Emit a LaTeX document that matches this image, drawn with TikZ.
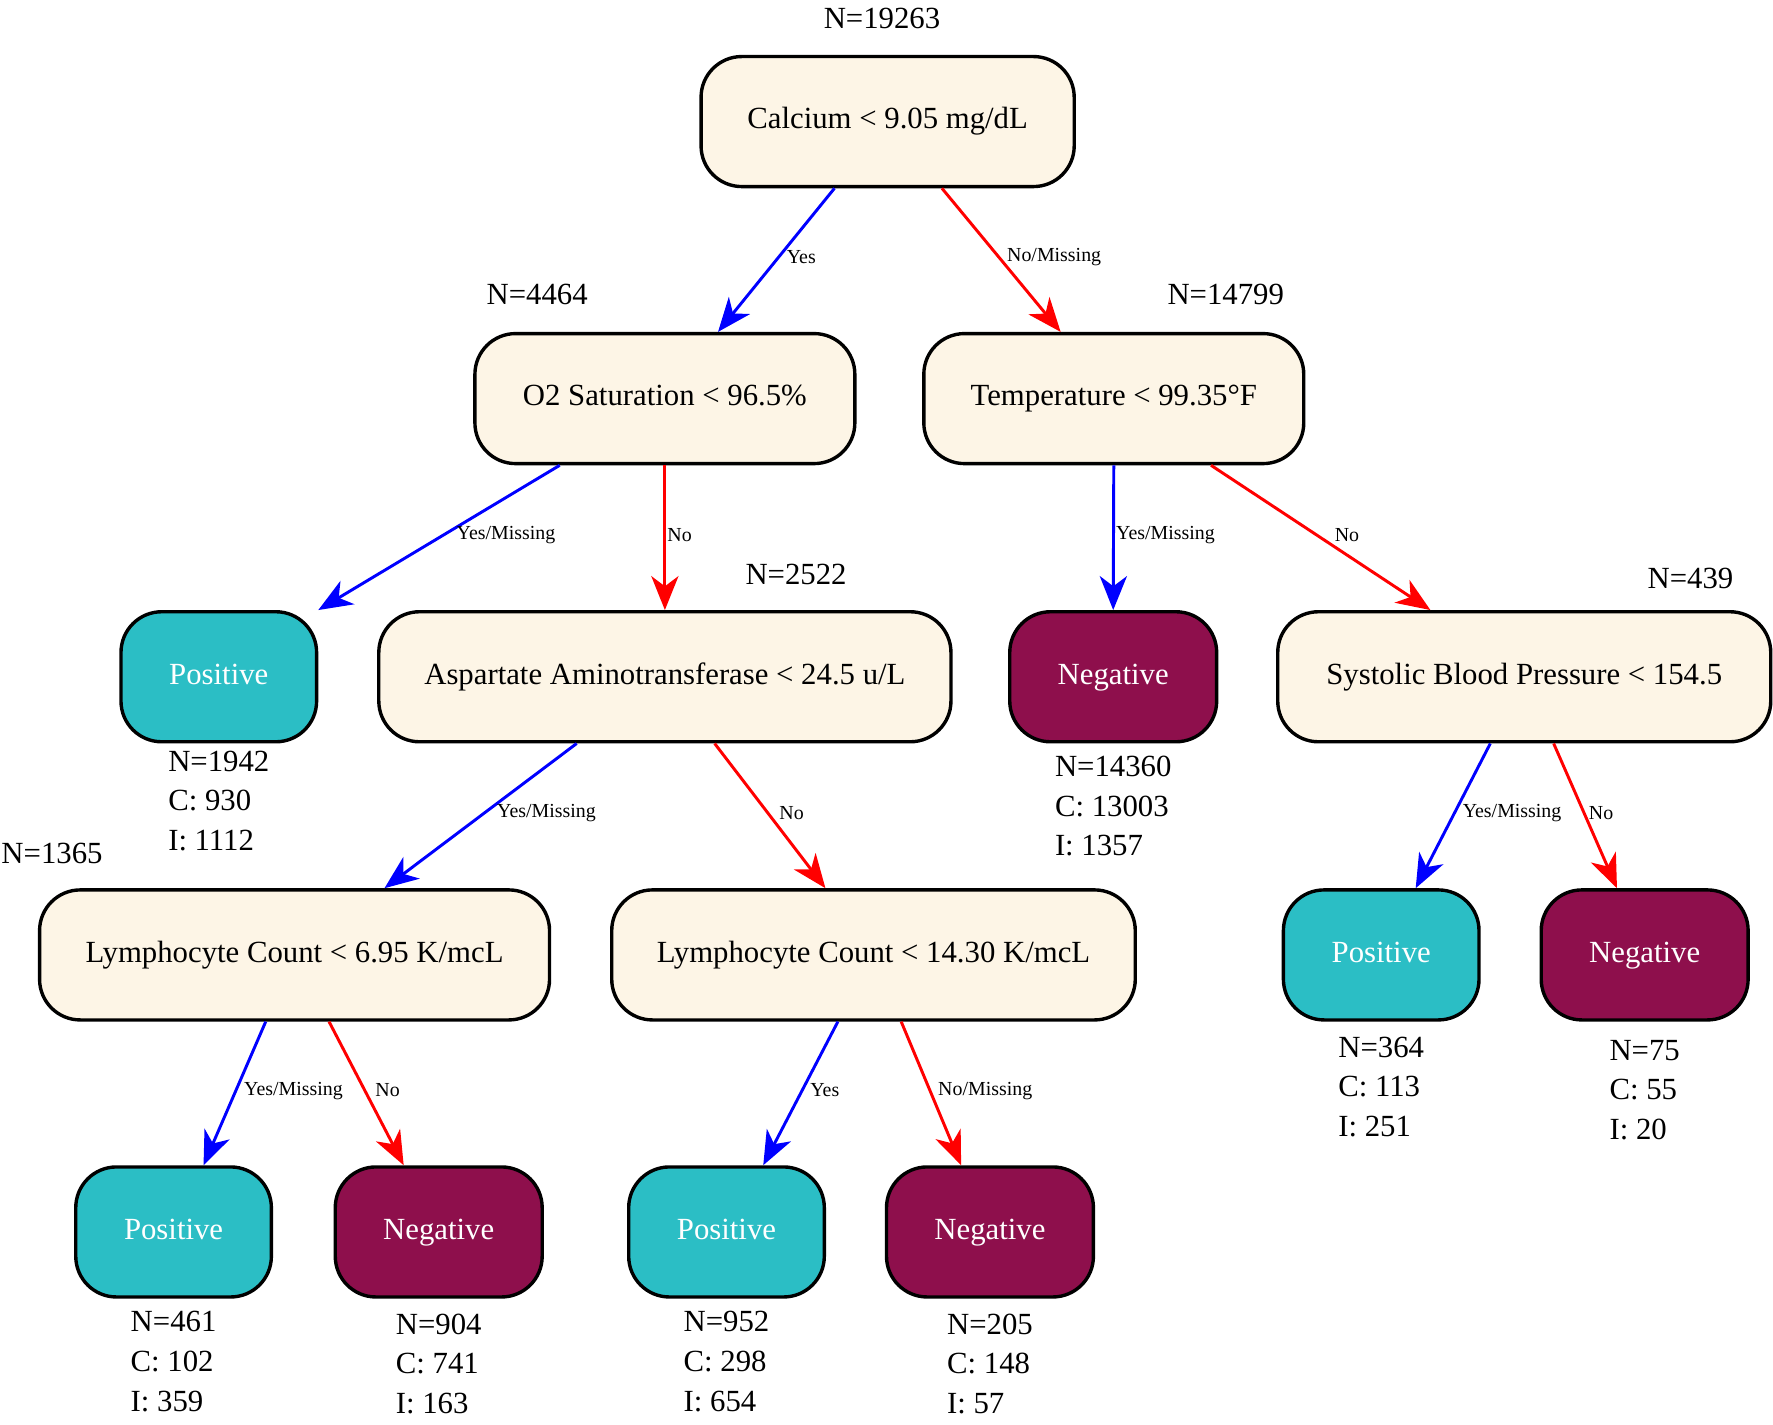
\documentclass[tikz,border=0pt]{standalone}
\usepackage{fontspec}
\setmainfont{Liberation Serif}
\usetikzlibrary{arrows.meta,positioning}
\definecolor{splitfill}{HTML}{FDF5E6}
\definecolor{leafpos}{HTML}{2BBEC5}
\definecolor{leafneg}{HTML}{8E0F4C}
\begin{document}
\begin{tikzpicture}[x=0.5pt, y=-0.5pt,
	split/.style={draw, line width=1.5pt, rounded corners=18pt, fill=splitfill, minimum height=57.5pt, inner sep=0pt, text height=9.5pt, text depth=3pt, font=\fontsize{13.6}{16}\selectfont},
	posleaf/.style={split, fill=leafpos, text=white, minimum width=86.5pt},
	negleaf/.style={split, fill=leafneg, text=white, minimum width=91.5pt},
	count/.style={inner sep=1pt, font=\fontsize{13.6}{16}\selectfont},
	stats/.style={count, align=left, font=\fontsize{13.6}{17.5}\selectfont},
	yesedge/.style={draw=blue, line width=1.3pt, -{Stealth[length=15pt, width=12pt, inset=4.5pt]}},
	noedge/.style={yesedge, draw=red},
	elabel/.style={pos=0.48, anchor=west, xshift=3pt, inner sep=0pt, font=\fontsize{8.8}{10}\selectfont}]
		\useasboundingbox ( 0, 0 ) rectangle ( 1568, 1259.5 );

		% корень
		\node [split, minimum width=165pt] (calcium) at ( 785, 107.5 ) {Calcium < 9.05 mg/dL};
		\node [count] (nCalcium) at ( 780, 16 ) {N=19263};

		% уровень 1
		\node [split, minimum width=168pt] (o2) at ( 588, 352.5 ) {O2 Saturation < 96.5\%};
		\node [count] (nO2) at ( 475, 260 ) {N=4464};
		\node [split, minimum width=168pt] (temp) at ( 985, 352.5 ) {Temperature < 99.35°F};
		\node [count] (nTemp) at ( 1084, 260 ) {N=14799};

		% уровень 2
		\node [posleaf] (pos1) at ( 193.5, 598.5 ) {Positive};
		\node [stats, below=2pt of pos1] (sPos1) {N=1942\\C: 930\\I: 1112};
		\node [split, minimum width=253pt] (ast) at ( 588, 598.5 ) {Aspartate Aminotransferase < 24.5 u/L};
		\node [count] (nAst) at ( 704, 508 ) {N=2522};
		\node [negleaf] (neg1) at ( 984.5, 598.5 ) {Negative};
		\node [stats, below=4.5pt of neg1] (sNeg1) {N=14360\\C: 13003\\I: 1357};
		\node [split, minimum width=218pt] (sbp) at ( 1348, 598.5 ) {Systolic Blood Pressure < 154.5};
		\node [count] (nSbp) at ( 1495, 512 ) {N=439};

		% уровень 3
		\node [split, minimum width=225.5pt] (lc1) at ( 260.5, 844.5 ) {Lymphocyte Count < 6.95 K/mcL};
		\node [count] (nLc1) at ( 46, 755 ) {N=1365};
		\node [split, minimum width=231.5pt] (lc2) at ( 772.5, 844.5 ) {Lymphocyte Count < 14.30 K/mcL};
		\node [posleaf] (pos2) at ( 1221.5, 844.5 ) {Positive};
		\node [stats, below=5.5pt of pos2] (sPos2) {N=364\\C: 113\\I: 251};
		\node [negleaf] (neg2) at ( 1454.5, 844.5 ) {Negative};
		\node [stats, below=7pt of neg2] (sNeg2) {N=75\\C: 55\\I: 20};

		% уровень 4
		\node [posleaf] (pos3) at ( 153.5, 1089.5 ) {Positive};
		\node [stats, below=4.5pt of pos3] (sPos3) {N=461\\C: 102\\I: 359};
		\node [negleaf] (neg3) at ( 388, 1089.5 ) {Negative};
		\node [stats, below=5.5pt of neg3] (sNeg3) {N=904\\C: 741\\I: 163};
		\node [posleaf] (pos4) at ( 642.5, 1089.5 ) {Positive};
		\node [stats, below=4.5pt of pos4] (sPos4) {N=952\\C: 298\\I: 654};
		\node [negleaf] (neg4) at ( 875.5, 1089.5 ) {Negative};
		\node [stats, below=5.5pt of neg4] (sNeg4) {N=205\\C: 148\\I: 57};

		% связи
		\draw [yesedge] ([xshift=-23.5pt]calcium.south) -- node [elabel] {Yes} ([xshift=23.5pt]o2.north);
		\draw [noedge] ([xshift=24pt]calcium.south) -- node [elabel] {No/Missing} ([xshift=-23.5pt]temp.north);
		\draw [yesedge] ([xshift=-46.5pt]o2.south) -- node [elabel, xshift=2pt] {Yes/Missing} (pos1.north east);
		\draw [noedge] (o2.south) -- node [elabel, xshift=-2.5pt] {No} (ast.north);
		\draw [yesedge] (temp.south) -- node [elabel, xshift=-2.5pt] {Yes/Missing} (neg1.north);
		\draw [noedge] ([xshift=43pt]temp.south) -- node [elabel, xshift=4.5pt] {No} ([xshift=-41.5pt]sbp.north);
		\draw [yesedge] ([xshift=-39pt]ast.south) -- node [elabel, xshift=2pt] {Yes/Missing} ([xshift=39.75pt]lc1.north);
		\draw [noedge] ([xshift=22pt]ast.south) -- node [elabel, xshift=1.5pt] {No} ([xshift=-21.25pt]lc2.north);
		\draw [yesedge] ([xshift=-15pt]sbp.south) -- node [elabel] {Yes/Missing} ([xshift=15.25pt]pos2.north);
		\draw [noedge] ([xshift=13pt]sbp.south) -- node [elabel, xshift=-1.5pt] {No} ([xshift=-12.25pt]neg2.north);
		\draw [yesedge] ([xshift=-12.75pt]lc1.south) -- node [elabel] {Yes/Missing} ([xshift=13.25pt]pos3.north);
		\draw [noedge] ([xshift=15.25pt]lc1.south) -- node [elabel, xshift=1pt] {No} ([xshift=-15.5pt]neg3.north);
		\draw [yesedge] ([xshift=-15.75pt]lc2.south) -- node [elabel] {Yes} ([xshift=16.25pt]pos4.north);
		\draw [noedge] ([xshift=12.25pt]lc2.south) -- node [elabel] {No/Missing} ([xshift=-12.75pt]neg4.north);
\end{tikzpicture}
\end{document}
